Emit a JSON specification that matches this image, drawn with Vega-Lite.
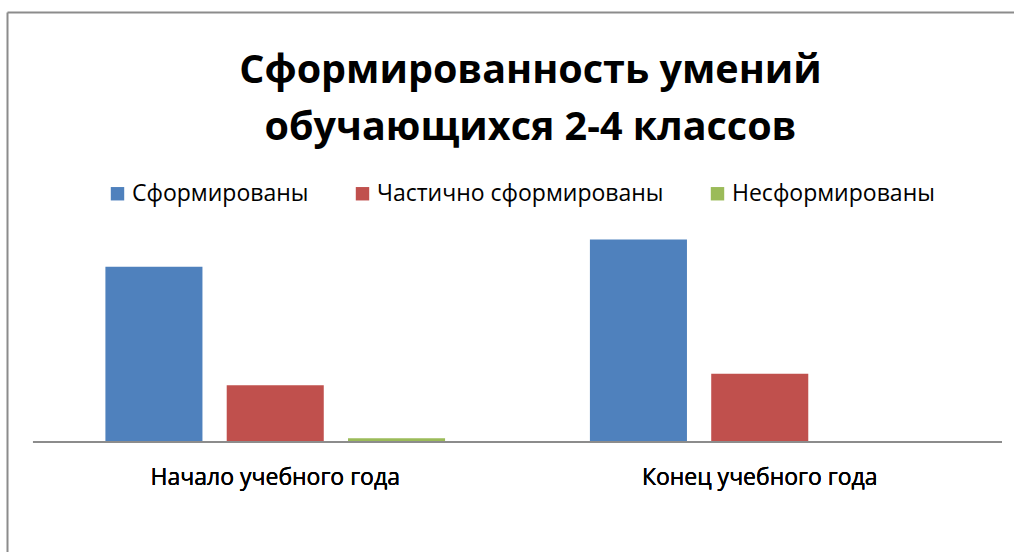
{
  "$schema": "https://vega.github.io/schema/vega-lite/v6.json",
  "autosize": "none",
  "width": 1007,
  "height": 540,
  "padding": {"left": 7, "top": 12, "right": 0, "bottom": 0},
  "background": "white",
  "title": {
    "text": ["Сформированность умений", "обучающихся 2-4 классов"],
    "font": "Open Sans",
    "fontSize": 39.5,
    "fontWeight": "bold",
    "color": "#000000",
    "anchor": "middle",
    "lineHeight": 57,
    "offset": -136,
    "dx": 20
  },
  "config": {
    "view": {"stroke": null},
    "font": "Open Sans"
  },
  "data": {
    "values": [
      {"period": "Начало учебного года", "status": "Сформированы", "value": 47},
      {"period": "Начало учебного года", "status": "Частично сформированы", "value": 15.2},
      {"period": "Начало учебного года", "status": "Несформированы", "value": 1},
      {"period": "Конец учебного года", "status": "Сформированы", "value": 54.3},
      {"period": "Конец учебного года", "status": "Частично сформированы", "value": 18.3},
      {"period": "Конец учебного года", "status": "Несформированы", "value": 0}
    ]
  },
  "encoding": {
    "x": {
      "field": "period",
      "type": "nominal",
      "sort": ["Начало учебного года", "Конец учебного года"],
      "scale": {"paddingInner": 0, "paddingOuter": 0.0392, "align": 0.684},
      "axis": {"orient": "top", "domain": true, "domainColor": "#8c8c8c", "domainWidth": 2, "ticks": false, "labels": false, "title": null, "grid": false}
    },
    "y": {
      "field": "value",
      "type": "quantitative",
      "scale": {"domain": [-29.49, 115.28], "nice": false, "zero": true},
      "axis": {"orient": "left", "domain": true, "domainColor": "#8c8c8c", "domainWidth": 2, "ticks": false, "labels": false, "title": null, "grid": false}
    }
  },
  "layer": [
    {
      "mark": {"type": "bar"},
      "encoding": {
        "xOffset": {
          "field": "status",
          "type": "nominal",
          "sort": ["Сформированы", "Частично сформированы", "Несформированы"],
          "scale": {"paddingInner": 0.2, "paddingOuter": 0.597}
        },
        "color": {
          "field": "status",
          "type": "nominal",
          "sort": ["Сформированы", "Частично сформированы", "Несформированы"],
          "scale": {
            "domain": ["Сформированы", "Частично сформированы", "Несформированы"],
            "range": ["#4F81BD", "#C0504D", "#9BBB59"]
          },
          "legend": {
            "orient": "none",
            "direction": "horizontal",
            "legendX": 99,
            "legendY": 170,
            "title": null,
            "symbolType": "square",
            "symbolSize": 180,
            "symbolStrokeWidth": 0,
            "labelFont": "Open Sans",
            "labelFontSize": 23,
            "labelFontWeight": "normal",
            "labelColor": "#000000",
            "labelOffset": 3,
            "labelLimit": 400,
            "columnPadding": 42
          }
        }
      }
    },
    {
      "mark": {"type": "tick", "color": "#8c8c8c", "thickness": 2, "size": 484.5, "opacity": 1},
      "encoding": {
        "y": {"datum": 0}
      }
    },
    {
      "mark": {"type": "text", "font": "Open Sans", "fontSize": 23, "fontWeight": "normal", "color": "#000000", "baseline": "middle", "dy": 36},
      "encoding": {
        "y": {"datum": 0},
        "text": {"field": "period"}
      }
    }
  ]
}
